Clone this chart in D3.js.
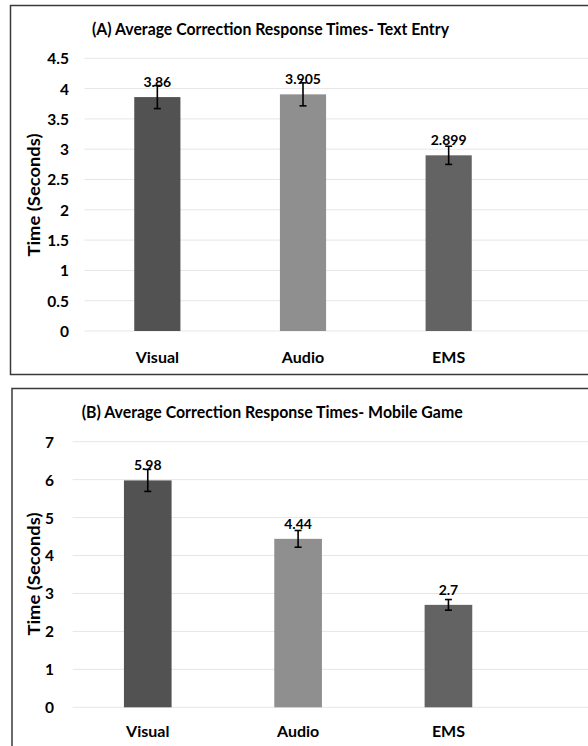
<!DOCTYPE html>
<html>
<head>
<meta charset="utf-8">
<script src="https://cdn.jsdelivr.net/npm/d3@7"></script>
<style>
  html, body { margin: 0; padding: 0; background: #fff; }
  svg { display: block; }
  text { font-family: Lato, "Open Sans", sans-serif; font-weight: 700; fill: #000; }
</style>
</head>
<body>
<svg id="chart" width="588" height="746"></svg>
<script>
// Categories shared by both panels
const categories = ["Visual", "Audio", "EMS"];
const barColors = ["#525252", "#8f8f8f", "#636363"];

// Panel A: text entry
const titleA = "(A) Average Correction Response Times- Text Entry";
const valuesA = [3.86, 3.905, 2.899];
const labelsA = ["3.86", "3.905", "2.899"];
const errorsA = [0.19, 0.19, 0.15];
const ticksA = [0, 0.5, 1, 1.5, 2, 2.5, 3, 3.5, 4, 4.5];

// Panel B: mobile game
const titleB = "(B) Average Correction Response Times- Mobile Game";
const valuesB = [5.98, 4.44, 2.7];
const labelsB = ["5.98", "4.44", "2.7"];
const errorsB = [0.29, 0.22, 0.14];
const ticksB = [0, 1, 2, 3, 4, 5, 6, 7];

const yTitle = "Time (Seconds)";

const svg = d3.select("#chart");

function panel(cfg) {
  const g = svg.append("g");

  // frame
  g.append("path")
    .attr("d", cfg.framePath)
    .attr("fill", "none")
    .attr("stroke", "#3a3a3a")
    .attr("stroke-width", 1.5);

  const x = d3.scaleBand().domain(categories).range(cfg.xRange).paddingInner(0.683).paddingOuter(0.3415);
  const y = d3.scaleLinear().domain([0, cfg.yMax]).range(cfg.yRange);

  // gridlines
  g.append("g").selectAll("line").data(cfg.ticks).join("line")
    .attr("x1", cfg.xRange[0]).attr("x2", 588)
    .attr("y1", d => y(d)).attr("y2", d => y(d))
    .attr("stroke", "#e6e6e6").attr("stroke-width", 1);

  // y tick labels
  const yAxis = d3.axisLeft(y).tickValues(cfg.ticks).tickSize(0).tickPadding(0)
    .tickFormat(d => String(d));
  const ya = g.append("g").attr("transform", `translate(${cfg.tickX},0)`).call(yAxis);
  ya.select(".domain").remove();
  ya.selectAll("text")
    .style("font-family", "Lato, sans-serif").style("font-weight", 700)
    .attr("font-size", 15.5).attr("fill", "#000").attr("dy", "0.35em");

  // bars
  g.append("g").selectAll("rect").data(cfg.values).join("rect")
    .attr("x", (d, i) => x(categories[i]))
    .attr("width", x.bandwidth())
    .attr("y", d => y(d))
    .attr("height", d => y(0) - y(d))
    .attr("fill", (d, i) => barColors[i]);

  // value labels
  g.append("g").selectAll("text").data(cfg.values).join("text")
    .attr("x", (d, i) => x(categories[i]) + x.bandwidth() / 2)
    .attr("y", d => y(d) - 10)
    .attr("text-anchor", "middle")
    .attr("font-size", 14)
    .text((d, i) => cfg.labels[i]);

  // error bars
  const eb = g.append("g").attr("stroke", "#000").attr("stroke-width", 1.6);
  cfg.values.forEach((v, i) => {
    const cx = x(categories[i]) + x.bandwidth() / 2;
    const e = cfg.errors[i];
    eb.append("line").attr("x1", cx).attr("x2", cx).attr("y1", y(v + e)).attr("y2", y(v - e));
    eb.append("line").attr("x1", cx - 3.5).attr("x2", cx + 3.5).attr("y1", y(v + e)).attr("y2", y(v + e));
    eb.append("line").attr("x1", cx - 3.5).attr("x2", cx + 3.5).attr("y1", y(v - e)).attr("y2", y(v - e));
  });

  // category labels
  const xAxis = d3.axisBottom(x).tickSize(0).tickPadding(0);
  const xa = g.append("g").attr("transform", `translate(0,${cfg.catY})`).call(xAxis);
  xa.select(".domain").remove();
  xa.selectAll("text")
    .style("font-family", "Lato, sans-serif").style("font-weight", 700)
    .attr("font-size", 16).attr("fill", "#000").attr("dy", "0.35em").attr("y", 0);

  // title
  g.append("text")
    .attr("x", cfg.titleX).attr("y", cfg.titleY)
    .attr("text-anchor", "middle").attr("dy", "0.35em")
    .attr("font-size", 17.5)
    .attr("textLength", cfg.titleLen).attr("lengthAdjust", "spacingAndGlyphs")
    .text(cfg.title);

  // y axis title
  g.append("text")
    .attr("transform", `translate(34,${cfg.yTitleY}) rotate(-90)`)
    .attr("text-anchor", "middle").attr("dy", "0.35em")
    .attr("font-size", 17)
    .attr("textLength", 123).attr("lengthAdjust", "spacingAndGlyphs")
    .text(yTitle);
}

panel({
  framePath: "M600,5.5 L10.5,5.5 L10.5,374.5 L600,374.5",
  xRange: [84.5, 521.5],
  yRange: [331, 58.3],
  yMax: 4.5,
  ticks: ticksA,
  tickX: 69,
  values: valuesA, labels: labelsA, errors: errorsA,
  catY: 357,
  title: titleA, titleX: 270.5, titleY: 28.5, titleLen: 357,
  yTitleY: 195
});

panel({
  framePath: "M600,388.5 L12,388.5 L12,760",
  xRange: [72.6, 523.6],
  yRange: [707.3, 441.7],
  yMax: 7,
  ticks: ticksB,
  tickX: 54,
  values: valuesB, labels: labelsB, errors: errorsB,
  catY: 731.5,
  title: titleB, titleX: 272.2, titleY: 411.5, titleLen: 381,
  yTitleY: 574
});
</script>
</body>
</html>
